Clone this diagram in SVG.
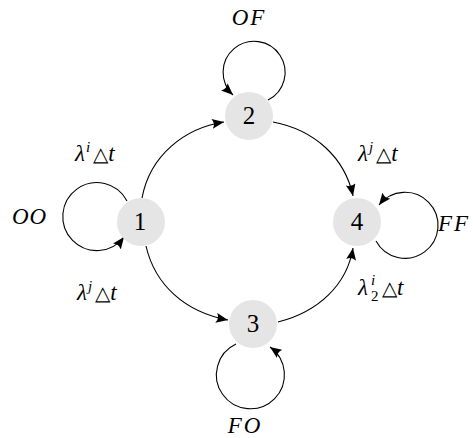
<svg xmlns="http://www.w3.org/2000/svg" width="473" height="438" viewBox="0 0 473 438">
<style>
.node{fill:#e5e5e5;stroke:none}
.num{font-size:25px;text-anchor:middle;fill:#000}
.lbl{font-size:23px;font-style:italic;fill:#000}
.sup{font-size:15px}
.tri{font-style:normal;font-size:20px}
.edge{fill:none;stroke:#000;stroke-width:1.1;marker-end:url(#arr)}
</style>
<defs>
<marker id="arr" markerUnits="userSpaceOnUse" markerWidth="13" markerHeight="10" refX="12" refY="5" orient="auto">
<path d="M0,0 Q3.5,5 0,10 L12,5 z" fill="#000"/>
</marker>
</defs>
<rect width="473" height="438" fill="#fff"/>
<g id="connectors">
<path class="edge" d="M142,198 C150,155 185,128 224,122"/>
<path class="edge" d="M273,122 C315,130 345,158 353,196"/>
<path class="edge" d="M146,246 C155,285 185,312 228,320"/>
<path class="edge" d="M278,322 C318,312 347,285 353,248"/>
<path class="edge" d="M268,100 A31,31 0 1 0 233,95"/>
<path class="edge" d="M127,201 A34,34 0 1 0 124,237"/>
<path class="edge" d="M376,241 A33,33 0 1 0 379,205"/>
<path class="edge" d="M236,344 A34,34 0 1 0 270,347"/>
</g>
<g font-family="Liberation Serif, serif">
<g id="node1"><circle class="node" cx="141" cy="222" r="24"/><text class="num" x="140" y="230">1</text></g>
<g id="node2"><circle class="node" cx="249" cy="116" r="24"/><text class="num" x="249" y="124">2</text></g>
<g id="node3"><circle class="node" cx="253" cy="324" r="24"/><text class="num" x="253" y="332">3</text></g>
<g id="node4"><circle class="node" cx="357" cy="222" r="24"/><text class="num" x="357" y="230">4</text></g>
<g id="labels">
<text class="lbl" x="249" y="25" text-anchor="middle" letter-spacing="2">OF</text>
<text class="lbl" x="12" y="224" letter-spacing="1">OO</text>
<text class="lbl" x="438" y="231" letter-spacing="2">FF</text>
<text class="lbl" x="245" y="433" text-anchor="middle" letter-spacing="2">FO</text>
<text class="lbl" x="75" y="161">λ<tspan class="sup" dy="-9" dx="1">i</tspan><tspan class="tri" dy="9" dx="3">△</tspan>t</text>
<text class="lbl" x="77" y="300">λ<tspan class="sup" dy="-9" dx="1">j</tspan><tspan class="tri" dy="9" dx="3">△</tspan>t</text>
<text class="lbl" x="358" y="161">λ<tspan class="sup" dy="-9" dx="1">j</tspan><tspan class="tri" dy="9" dx="3">△</tspan>t</text>
<text class="lbl" x="358" y="295">λ</text>
<text class="lbl sup" x="371" y="285">i</text>
<text class="lbl sup" x="371" y="301" style="font-style:normal">2</text>
<text class="lbl" x="382" y="295"><tspan class="tri">△</tspan>t</text>
</g>
</g>
</svg>
